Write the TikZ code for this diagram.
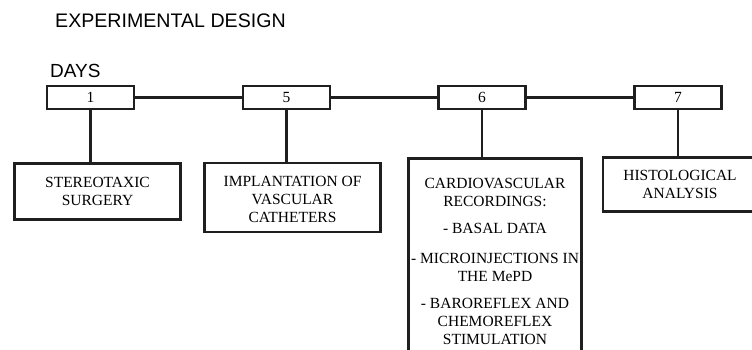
\documentclass[tikz,border=0pt]{standalone}
\usepackage{fontspec}
\setmainfont{Liberation Serif}
\newfontfamily\arialfont{Liberation Sans}
\begin{document}
\begin{tikzpicture}[x=1pt,y=-1pt,
  box/.style={draw=black!88, line width=2.8pt, inner sep=0pt, align=center,
    font=\fontsize{15.5}{18}\selectfont},
  daybox/.style={box, minimum width=87pt, minimum height=23pt},
  head/.style={anchor=base west, inner sep=0pt, font=\arialfont\fontsize{19.6}{22}\selectfont},
  link/.style={draw=black!88, line width=2.6pt}]
\useasboundingbox (0,0) rectangle (752,350);
\clip (0,0) rectangle (752,350);
\node[head] (title) at (55,27.5) {EXPERIMENTAL DESIGN};
\node[head, font=\arialfont\fontsize{19}{22}\selectfont] (days) at (50,78) {DAYS};
\node[daybox] (d1) at (90.5,97.5) {1};
\node[daybox] (d5) at (286.5,97.5) {5};
\node[daybox] (d6) at (482,97.5) {6};
\node[daybox] (d7) at (678,97.5) {7};
\node[box, minimum width=166pt, minimum height=56pt] (s) at (97.5,191.5) {STEREOTAXIC\\SURGERY};
\node[box, minimum width=176pt, minimum height=69pt] (im) at (292.5,197.5)
  {\raisebox{-3.5pt}[\height][\depth]{\begin{tabular}{@{}c@{}}IMPLANTATION OF\\VASCULAR\\CATHETERS\end{tabular}}};
\node[box, anchor=north, minimum width=173pt, inner ysep=20pt] (cv) at (495,157)
  {CARDIOVASCULAR\\RECORDINGS:\\[9pt]- BASAL DATA\\[12pt]- MICROINJECTIONS IN\\THE MePD\\[9pt]- BAROREFLEX AND\\CHEMOREFLEX\\STIMULATION};
\node[box, minimum width=154pt, minimum height=54pt] (h) at (680,184.5) {HISTOLOGICAL\\ANALYSIS};
\draw[link] (d1) -- (d5);
\draw[link] (d5) -- (d6);
\draw[link] (d6) -- (d7);
\draw[link] (d1.south) -- (d1.south |- s.north);
\draw[link] (d5.south) -- (d5.south |- im.north);
\draw[link] (d6.south) -- (d6.south |- cv.north);
\draw[link] (d7.south) -- (d7.south |- h.north);
\end{tikzpicture}
\end{document}
